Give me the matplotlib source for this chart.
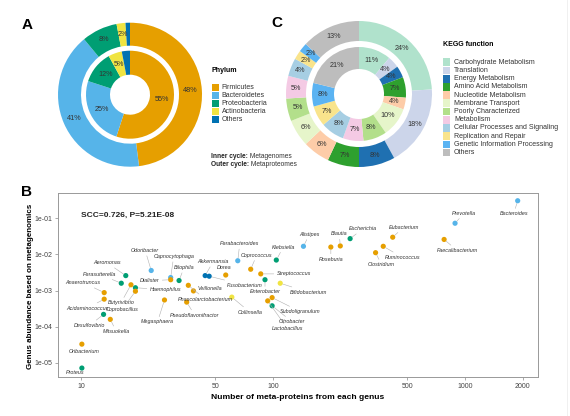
import numpy as np
import matplotlib
matplotlib.use('Agg')
import matplotlib.pyplot as plt
from matplotlib.patches import Rectangle
from matplotlib.lines import Line2D

plt.rcParams['font.family'] = ['Liberation Sans', 'DejaVu Sans']

W, H = 570, 416

# ---- panel A data: phylum composition ----
phyla = ['Firmicutes', 'Bacteroidetes', 'Proteobacteria', 'Actinobacteria', 'Others']
phylum_colors = ['#E69F00', '#56B4E9', '#009E73', '#F0E442', '#0072B2']
phylum_inner = [55, 25, 12, 5, 3]   # metagenomes
phylum_outer = [48, 41, 8, 2, 1]    # metaproteomes

# ---- panel C data: KEGG function ----
kegg = ['Carbohydrate Metabolism', 'Translation', 'Energy Metabolism',
        'Amino Acid Metabolism', 'Nucleotide Metabolism', 'Membrane Transport',
        'Poorly Characterized', 'Metabolism', 'Cellular Processes and Signaling',
        'Replication and Repair', 'Genetic Information Processing', 'Others']
kegg_colors = ['#B0E2CC', '#CCD5EA', '#1F70B1', '#2EA02E', '#FDCCA8', '#E6F5CA',
               '#B3DF8B', '#F4CAE4', '#A6CEE3', '#F9E48C', '#5BB3F2', '#BDBDBD']
kegg_inner = [11, 4, 4, 7, 4, 10, 8, 7, 8, 7, 8, 21]
kegg_outer = [24, 18, 8, 7, 6, 6, 5, 5, 4, 2, 2, 13]

# ---- panel B data: genus scatter ----
genus = ['Proteus', 'Oribacterium', 'Desulfovibrio', 'Mitsuokella', 'Anaerotruncus',
         'Acidaminococcus', 'Parasutterella', 'Aeromonas', 'Butyrivibrio', 'Haemophilus',
         'Coprobacillus', 'Odoribacter', 'Capnocytophaga', 'Dialister', 'Bilophila',
         'Megasphaera', 'Veillonella', 'Phascolarctobacterium', 'Pseudoflavonifractor',
         'Akkermansia', 'Fusobacterium', 'Dorea', 'Collinsella', 'Parabacteroides',
         'Coprococcus', 'Streptococcus', 'Enterobacter', 'Klebsiella', 'Bifidobacterium',
         'Lactobacillus', 'Subdoligranulum', 'Citrobacter', 'Alistipes', 'Roseburia',
         'Blautia', 'Escherichia', 'Clostridium', 'Ruminococcus', 'Eubacterium',
         'Faecalibacterium', 'Prevotella', 'Bacteroides']
n_proteins = [10.1, 10.1, 13.1, 14.2, 13.2, 13.2, 16.2, 17.1, 18.2, 19.2,
              19.2, 23.2, 29.3, 29.3, 32.4, 27.2, 38.5, 36.2, 35.5,
              44.3, 46.5, 56.7, 61, 65.5, 76.5, 86.3, 90.8, 104, 109,
              93.8, 98.9, 98.9, 144, 200, 224, 252, 342, 375, 420,
              778, 887, 1880]
abundance = [7.2e-6, 3.3e-5, 2.2e-4, 1.6e-4, 8.8e-4, 5.8e-4, 1.6e-3, 2.6e-3, 1.45e-3, 1.2e-3,
             9.6e-4, 3.6e-3, 2.3e-3, 2.0e-3, 1.9e-3, 5.5e-4, 9.8e-4, 1.4e-3, 4.8e-4,
             2.6e-3, 2.5e-3, 2.7e-3, 6.6e-4, 6.7e-3, 3.9e-3, 2.9e-3, 2.0e-3, 7.0e-3, 1.6e-3,
             5.2e-4, 6.4e-4, 3.8e-4, 0.0168, 0.016, 0.0172, 0.0274, 0.0112, 0.0168, 0.030,
             0.026, 0.073, 0.306]
genus_phylum = [2, 0, 2, 0, 0, 0, 2, 2, 0, 2,
                0, 1, 1, 0, 2, 0, 0, 0, 0,
                4, 4, 0, 3, 1, 0, 0, 2, 2, 3,
                0, 0, 2, 1, 0, 0, 2, 0, 0, 0,
                0, 1, 1]
scc_text = 'SCC=0.726, P=5.21E-08'

# label offsets in pixels (dx right, dy up), layout only
label_offsets = [(-7, -4), (2, -7), (-14, -11), (6, -12), (-21, 10),
                 (-17, -9), (-22, 9), (-19, 13), (-10, -18), (30, -2),
                 (-13, -18), (-6, 20), (3, 21), (-21, -1), (5, 13),
                 (-7, -22), (16, 2), (17, -14), (8, -13),
                 (8, 14), (36, -9), (-2, 8), (18, -15), (2, 17),
                 (6, 14), (33, 0), (0, -12), (7, 13), (28, -9),
                 (20, -28), (28, -14), (20, -16), (6, 12), (0, -12),
                 (-1, 12), (13, 10), (6, -12), (19, -11), (11, 10),
                 (13, -11), (9, 10), (-4, -13)]

fig = plt.figure(figsize=(W / 100, H / 100), dpi=100)


def frac(x, y):
    return x / W, 1 - y / H


def donut(cx, cy, r, outer, inner, colors, w_out, r_in, w_in, skip):
    ax = fig.add_axes([(cx - r) / W, 1 - (cy + r) / H, 2 * r / W, 2 * r / H])
    for vals, rad, wid in [(outer, 1.0, w_out), (inner, r_in, w_in)]:
        wedges, _ = ax.pie(vals, colors=colors, radius=rad, startangle=90,
                           counterclock=False, wedgeprops=dict(width=wid, linewidth=0))
        for wdg, v, name in zip(wedges, vals, skip):
            if name:
                continue
            ang = np.deg2rad((wdg.theta1 + wdg.theta2) / 2)
            rm = rad - wid / 2
            ax.text(rm * np.cos(ang), rm * np.sin(ang), f'{v}%', ha='center',
                    va='center', fontsize=5.2, color='#333333')
    ax.set_xlim(-1, 1)
    ax.set_ylim(-1, 1)
    ax.set_aspect('equal')
    ax.axis('off')
    return ax


def bold_then_plain(x, y, bold, plain, size):
    t = fig.text(*frac(x, y), bold, fontsize=size, fontweight='bold', va='baseline',
                 color='#222222')
    plt.annotate(' ' + plain, xy=(1, 0), xycoords=t, va='bottom', ha='left',
                 fontsize=size, color='#333333', annotation_clip=False)


# Panel A
donut(130, 94.7, 72, phylum_outer, phylum_inner, phylum_colors,
      23 / 72, 44 / 72, 24 / 72, [False, False, False, False, True])

fig.text(*frac(211, 70.7), 'Phylum', fontsize=5, fontweight='bold', va='center')
for i, (name, col) in enumerate(zip(phyla, phylum_colors)):
    y = 87.3 + 8 * i
    fig.add_artist(Rectangle(frac(212, y + 3.6), 7 / W, 7.2 / H, color=col,
                             transform=fig.transFigure, lw=0))
    fig.text(*frac(221.5, y), name, fontsize=5, va='center', color='#333333')

# Panel C
donut(359, 94, 73, kegg_outer, kegg_inner, kegg_colors,
      20 / 73, 47 / 73, 22 / 73, [False] * 12)

fig.text(*frac(443, 45), 'KEGG function', fontsize=5, fontweight='bold', va='center')
for i, (name, col) in enumerate(zip(kegg, kegg_colors)):
    y = 62.3 + 8.2 * i
    fig.add_artist(Rectangle(frac(443, y + 3.8), 7 / W, 7.6 / H, color=col,
                             transform=fig.transFigure, lw=0))
    fig.text(*frac(454, y), name, fontsize=5, va='center', color='#333333')

# Panel B
ax = fig.add_axes([58 / W, 1 - 377 / H, 480 / W, 184 / H])
ax.scatter(n_proteins, abundance, s=14, c=[phylum_colors[p] for p in genus_phylum],
           linewidths=0, zorder=3)
for name, x, y, (dx, dy) in zip(genus, n_proteins, abundance, label_offsets):
    far = np.hypot(dx, dy) > 11
    ax.annotate(name, (x, y), xytext=(dx, dy), textcoords='offset pixels',
                ha='center', va='center', fontsize=3.9, style='italic', color='#333333',
                arrowprops=dict(arrowstyle='-', color='#b0b0b0', lw=0.4,
                                shrinkA=0, shrinkB=2) if far else None, zorder=4)
ax.set_xscale('log')
ax.set_yscale('log')
ax.set_xlim(10 ** 0.88, 10 ** 3.38)
ax.set_ylim(10 ** -5.39, 10 ** -0.30)
xt = [10, 50, 100, 500, 1000, 2000]
ax.set_xticks(xt)
ax.set_xticklabels([str(v) for v in xt])
yt = [1e-5, 1e-4, 1e-3, 1e-2, 1e-1]
ax.set_yticks(yt)
ax.set_yticklabels(['1e-05', '1e-04', '1e-03', '1e-02', '1e-01'])
ax.minorticks_off()
ax.tick_params(length=2.5, width=0.5, color='#888888', labelsize=5, labelcolor='#444444', pad=1.5)
for s in ax.spines.values():
    s.set_color('#999999')
    s.set_linewidth(0.7)
ax.text(0.048, 0.88, scc_text, transform=ax.transAxes, fontsize=6,
        fontweight='bold', va='center', color='#222222')
ax.set_xlabel('Number of meta-proteins from each genus', fontsize=6.1,
              fontweight='bold', labelpad=3)
ax.set_ylabel('Genus abundance based on metagenomics', fontsize=5.8,
              fontweight='bold', labelpad=0.5)
ax.yaxis.set_label_coords(-24 / 480, 0.49)

# cycle notes below the phylum legend
bold_then_plain(211, 157.5, 'Inner cycle:', 'Metagenomes', 4.8)
bold_then_plain(211, 165.8, 'Outer cycle:', 'Metaproteomes', 4.8)

# panel letters
for letter, x, y in [('A', 26.7, 25), ('C', 277, 23), ('B', 27, 191.5)]:
    fig.text(*frac(x, y), letter, fontsize=11, fontweight='bold', ha='center', va='center')

# faint border at the right edge of the original image
fig.add_artist(Line2D([567 / W, 567 / W], [0, 1], transform=fig.transFigure,
                      color='#eeeeee', lw=0.6))

fig.savefig('out.png', dpi=100)
